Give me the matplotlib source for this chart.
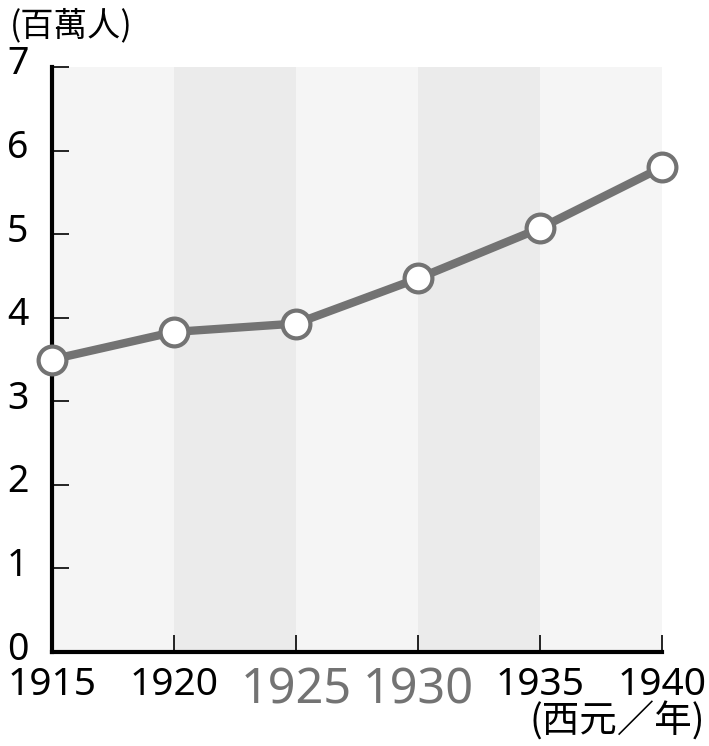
import matplotlib.pyplot as plt
from matplotlib.transforms import ScaledTranslation

plt.rcParams['font.family'] = ['Noto Sans CJK TC', 'DejaVu Sans']

years = [1915, 1920, 1925, 1930, 1935, 1940]
population = [3.5, 3.83, 3.93, 4.47, 5.07, 5.8]
y_ticks = [0, 1, 2, 3, 4, 5, 6, 7]
big_years = [1925, 1930]

line_gray = '#737373'
digit_font = ['Noto Sans', 'DejaVu Sans']

fig = plt.figure(figsize=(7.09, 7.46), dpi=100)
ax = fig.add_axes([52 / 709, 94 / 746, 610 / 709, 585 / 746])

# alternating background bands
for i in range(len(years) - 1):
    shade = '#ebebeb' if i % 2 else '#f5f5f5'
    ax.axvspan(years[i], years[i + 1], color=shade, lw=0, zorder=0)

ax.plot(years, population, color=line_gray, lw=6, zorder=3,
        marker='o', ms=20, mfc='white', mec=line_gray, mew=3, clip_on=False)

ax.set_xlim(years[0], years[-1])
ax.set_ylim(0, 7)
ax.set_xticks(years)
ax.set_yticks(y_ticks)
ax.set_yticklabels([str(v) for v in y_ticks])
ax.tick_params(axis='y', direction='in', length=12, width=1.2, labelsize=27, pad=17)
ax.tick_params(axis='x', direction='in', length=12, width=1.2, labelsize=28, pad=10)

# nudge y labels up a little, like the original
up = ScaledTranslation(0, 7 / 100, fig.dpi_scale_trans)
for lbl in ax.get_yticklabels():
    lbl.set_family(digit_font)
    lbl.set_transform(lbl.get_transform() + up)
for lbl in ax.get_xticklabels():
    lbl.set_family(digit_font)
    if int(lbl.get_text()) in big_years:
        lbl.set_fontsize(35)
        lbl.set_color(line_gray)

for side in ['top', 'right']:
    ax.spines[side].set_visible(False)
ax.spines['left'].set_linewidth(3)
ax.spines['bottom'].set_linewidth(3)

fig.text(10 / 709, 1 - 26 / 746, '(百萬人)', fontsize=24, va='center', ha='left')
fig.text(705 / 709, 1 - 722 / 746, '(西元／年)', fontsize=27, va='center', ha='right')

fig.savefig('out.png', dpi=100)
